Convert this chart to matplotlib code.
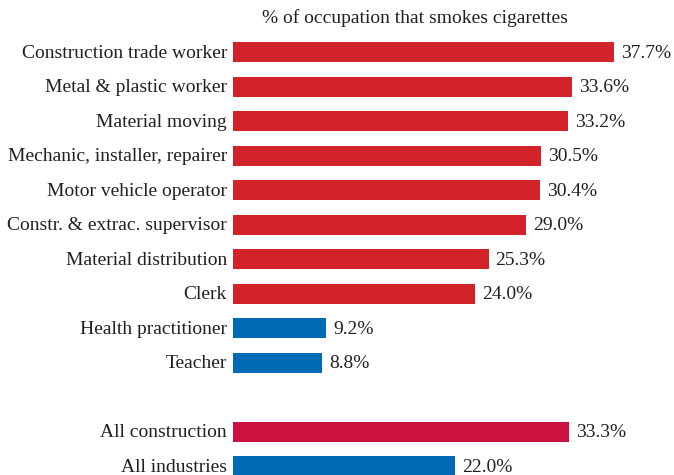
import matplotlib
matplotlib.use("Agg")
import matplotlib.pyplot as plt

categories = [
    "Construction trade worker",
    "Metal & plastic worker",
    "Material moving",
    "Mechanic, installer, repairer",
    "Motor vehicle operator",
    "Constr. & extrac. supervisor",
    "Material distribution",
    "Clerk",
    "Health practitioner",
    "Teacher",
    "All construction",
    "All industries",
]
values = [37.7, 33.6, 33.2, 30.5, 30.4, 29.0, 25.3, 24.0, 9.2, 8.8, 33.3, 22.0]
positions = [0, 1, 2, 3, 4, 5, 6, 7, 8, 9, 11, 12]

RED = "#D2232A"
CRIMSON = "#CE1240"
BLUE = "#006AB4"
colors = [RED] * 8 + [BLUE] * 2 + [CRIMSON, BLUE]

title = "% of occupation that smokes cigarettes"

plt.rcParams["font.family"] = ["Liberation Serif", "DejaVu Serif"]

W, H = 674, 475
fig = plt.figure(figsize=(W / 100, H / 100), dpi=100)
ax = fig.add_axes([233 / W, 0, 1 - 233 / W, 1])

px_per_unit = 10.1
ax.set_xlim(0, (W - 233) / px_per_unit)
row = 34.5
first_center = 52
ax.set_ylim((H - first_center) / row, -first_center / row)

ax.barh(positions, values, height=20 / row, color=colors, align="center")

fs = 14
text_color = "#231F20"
for p, v, c in zip(positions, values, categories):
    ax.text(v + 0.7, p + 0.03, f"{v:.1f}%", va="center", ha="left", fontsize=fs, color=text_color)
    ax.text(-0.6, p + 0.03, c, va="center", ha="right", fontsize=fs, color=text_color)

fig.text(415 / W, 1 - 18 / H, title, ha="center", va="center", fontsize=fs, color=text_color)

ax.axis("off")
fig.savefig("out.png", dpi=100)
